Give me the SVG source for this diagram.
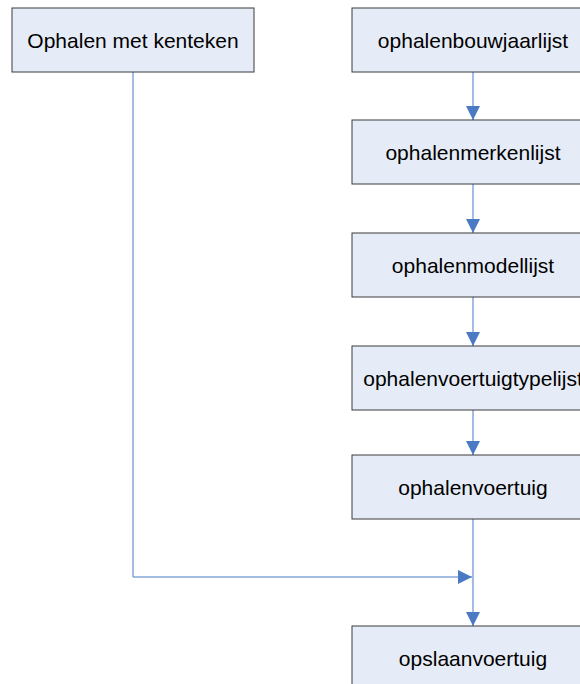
<svg xmlns="http://www.w3.org/2000/svg" width="580" height="684" viewBox="0 0 580 684">
<style>
.box{fill:#e6ecf7;stroke:#3a3a3a;stroke-width:1}
.lbl{font-family:"Liberation Sans",Arial,sans-serif;font-size:21px;fill:#000;text-anchor:middle}
.con{fill:none;stroke:#4a7ac4;stroke-width:1}
</style>
<defs>
<marker id="arr" markerWidth="14" markerHeight="14" refX="14" refY="7" orient="auto" markerUnits="userSpaceOnUse">
<path d="M0,0 L14,7 L0,14 Z" fill="#4a7ac4"/>
</marker>
</defs>
<rect width="580" height="684" fill="#fff"/>
<g id="connectors">
<line class="con" x1="473" y1="72" x2="473" y2="120" marker-end="url(#arr)"/>
<line class="con" x1="473" y1="184" x2="473" y2="233" marker-end="url(#arr)"/>
<line class="con" x1="473" y1="297" x2="473" y2="346" marker-end="url(#arr)"/>
<line class="con" x1="473" y1="410" x2="473" y2="455" marker-end="url(#arr)"/>
<line class="con" x1="473" y1="519" x2="473" y2="626" marker-end="url(#arr)"/>
<polyline class="con" points="133,72 133,577 472,577" marker-end="url(#arr)"/>
</g>
<g id="n-kenteken">
<rect class="box" x="12" y="8" width="242" height="64"/>
<text class="lbl" x="133" y="47.5">Ophalen met kenteken</text>
</g>
<g id="n-bouwjaar">
<rect class="box" x="352" y="8" width="242" height="64"/>
<text class="lbl" x="473" y="47.5">ophalenbouwjaarlijst</text>
</g>
<g id="n-merken">
<rect class="box" x="352" y="120" width="242" height="64"/>
<text class="lbl" x="473" y="159.5">ophalenmerkenlijst</text>
</g>
<g id="n-modellen">
<rect class="box" x="352" y="233" width="242" height="64"/>
<text class="lbl" x="473" y="272.5">ophalenmodellijst</text>
</g>
<g id="n-typen">
<rect class="box" x="352" y="346" width="242" height="64"/>
<text class="lbl" x="473" y="385.5">ophalenvoertuigtypelijst</text>
</g>
<g id="n-voertuig">
<rect class="box" x="352" y="455" width="242" height="64"/>
<text class="lbl" x="473" y="494.5">ophalenvoertuig</text>
</g>
<g id="n-opslaan">
<rect class="box" x="352" y="626" width="242" height="64"/>
<text class="lbl" x="473" y="665.5">opslaanvoertuig</text>
</g>
</svg>
